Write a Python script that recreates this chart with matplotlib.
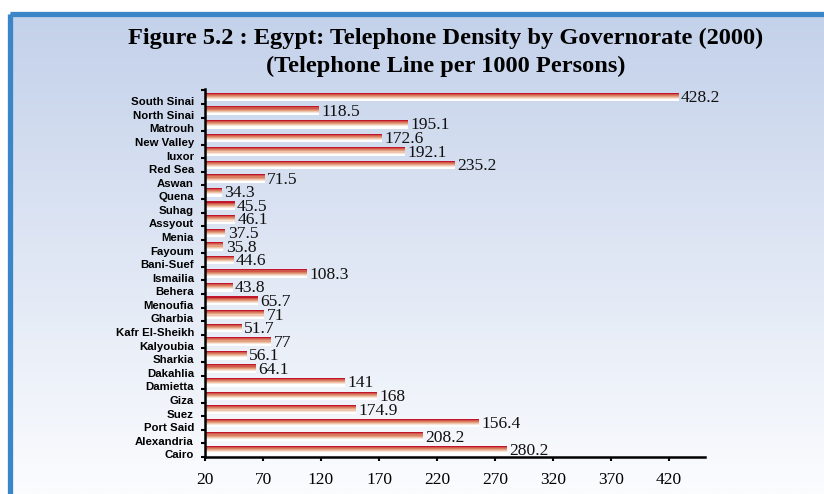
import numpy as np
import matplotlib
matplotlib.use('Agg')
import matplotlib.pyplot as plt
from matplotlib.patches import Rectangle

# governorates, bottom (Cairo) to top (South Sinai)
governorates = ['Cairo', 'Alexandria', 'Port Said', 'Suez', 'Giza', 'Damietta', 'Dakahlia',
                'Sharkia', 'Kalyoubia', 'Kafr El-Sheikh', 'Gharbia', 'Menoufia', 'Behera',
                'Ismailia', 'Bani-Suef', 'Fayoum', 'Menia', 'Assyout', 'Suhag', 'Quena',
                'Aswan', 'Red Sea', 'luxor', 'New Valley', 'Matrouh', 'North Sinai', 'South Sinai']
# bar lengths as drawn
bar_values = [280.2, 208.2, 256.5, 150.5, 168, 141, 64.1,
              56.1, 77, 51.7, 71, 65.7, 43.8,
              108.3, 44.6, 35.8, 37.5, 46.1, 45.5, 34.3,
              71.5, 235.2, 192.1, 172.6, 195.1, 118.5, 428.2]
# value labels as printed
value_labels = ['280.2', '208.2', '156.4', '174.9', '168', '141', '64.1',
                '56.1', '77', '51.7', '71', '65.7', '43.8',
                '108.3', '44.6', '35.8', '37.5', '46.1', '45.5', '34.3',
                '71.5', '235.2', '192.1', '172.6', '195.1', '118.5', '428.2']
x_ticks = [20, 70, 120, 170, 220, 270, 320, 370, 420]

title1 = 'Figure 5.2 : Egypt: Telephone Density by Governorate (2000)'
title2 = '(Telephone Line per 1000 Persons)'

fig = plt.figure(figsize=(8.24, 4.94), dpi=100)
fig.patch.set_facecolor('white')

# background panel with gradient and blue frame
bg = fig.add_axes([0, 0, 1, 1], zorder=0)
bg.axis('off')
top = np.array([0xc3, 0xd1, 0xea]) / 255
bot = np.array([0xfb, 0xfc, 0xfe]) / 255
t = np.linspace(0, 1, 256)[:, None]
grad = (top[None, :] * (1 - t) + bot[None, :] * t)[:, None, :]
bg.imshow(grad, extent=[10.5, 830, 494, 14.5], aspect='auto', interpolation='bilinear')
bg.add_patch(Rectangle((10.5, 14.5), 900, 600, fill=False, edgecolor='#3a86c8', lw=3.8))
bg.set_xlim(0, 824)
bg.set_ylim(494, 0)

fig.text(446 / 824, 1 - 38 / 494, title1, ha='center', va='center',
         family='Liberation Serif', weight='bold', fontsize=17.6)
fig.text(446 / 824, 1 - 66 / 494, title2, ha='center', va='center',
         family='Liberation Serif', weight='bold', fontsize=17.6)

ax = fig.add_axes([205 / 824, 1 - 457 / 494, 500 / 824, 368 / 494], zorder=1)
ax.patch.set_alpha(0)

y = np.arange(len(governorates))
h = 0.64
stripes = ['#c0152a', '#d0564a', '#da7c62', '#e3a080', '#efc4aa', '#f7e4d8', '#ffffff', '#ffffff']
n = len(stripes)
for k, c in enumerate(stripes):
    off = h / 2 - (k + 0.5) * h / n
    ax.barh(y + off, bar_values, height=h / n, color=c, linewidth=0)

for yi, v, lab in zip(y, bar_values, value_labels):
    ax.text(v + 2, yi - 0.08, lab, va='center', ha='left', family='Liberation Serif',
            fontsize=12.6, color='#111111')

ax.set_xlim(20, 451)
ax.set_ylim(-0.5, 26.6)
ax.set_xticks(x_ticks)
ax.set_xticklabels([str(v) for v in x_ticks], family='Liberation Serif', fontsize=12.5)
ax.tick_params(axis='x', direction='out', length=3, width=1.5, pad=8)

ax.set_yticks(y - 0.3)
ax.set_yticklabels(governorates, family='Liberation Sans', weight='bold', fontsize=8.2)
ax.tick_params(axis='y', which='major', length=0, pad=8)
ax.set_yticks(np.arange(-0.5, 27, 1.0), minor=True)
ax.tick_params(axis='y', which='minor', direction='out', length=3, width=1.5)

for s in ['top', 'right']:
    ax.spines[s].set_visible(False)
for s in ['left', 'bottom']:
    ax.spines[s].set_linewidth(1.8)
    ax.spines[s].set_color('black')

fig.savefig('out.png', dpi=100)
